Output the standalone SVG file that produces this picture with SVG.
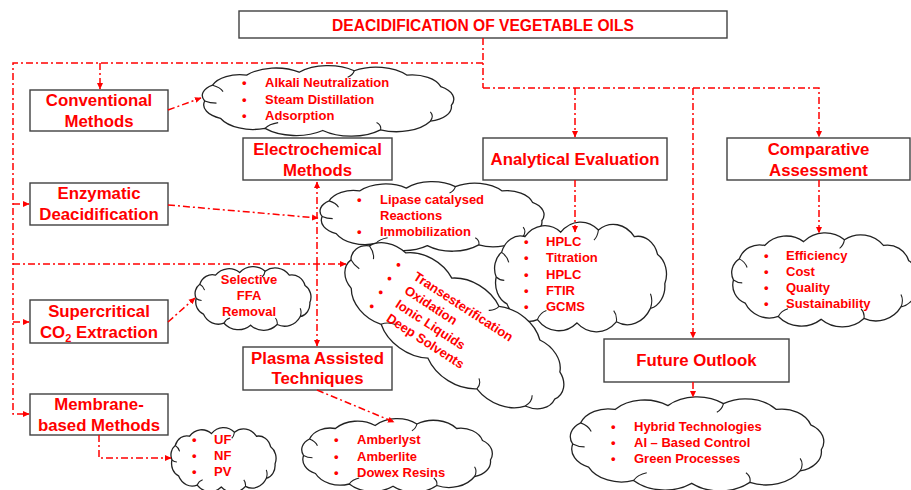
<svg xmlns="http://www.w3.org/2000/svg" xmlns:xlink="http://www.w3.org/1999/xlink" width="911" height="490" viewBox="0 0 911 490">
<style>
.box{fill:#fff;stroke:#404040;stroke-width:1.4}
.bt{font-family:"Liberation Sans",Arial,sans-serif;font-weight:bold;font-size:16.8px;fill:#ff0000;text-anchor:middle}
.title{font-family:"Liberation Sans",Arial,sans-serif;font-weight:bold;font-size:15.6px;fill:#ff0000;text-anchor:middle}
.ct{font-family:"Liberation Sans",Arial,sans-serif;font-weight:bold;font-size:13px;fill:#ff0000}
.ctm{font-family:"Liberation Sans",Arial,sans-serif;font-weight:bold;font-size:13px;fill:#ff0000;text-anchor:middle}
.cl{fill:#fff;stroke:#222;stroke-width:1.3;vector-effect:non-scaling-stroke}
.cli{fill:none;stroke:#222;stroke-width:1.1;vector-effect:non-scaling-stroke}
.con{fill:none;stroke:#ff0000;stroke-width:1.5;stroke-dasharray:7 3 2 3}
</style>
<defs>
<marker id="ah" markerWidth="7" markerHeight="7" refX="6" refY="3.5" orient="auto" markerUnits="userSpaceOnUse">
<path d="M0,0.5 L6.5,3.5 L0,6.5 Z" fill="#ff0000"/>
</marker>
<g id="cloud">
<g transform="translate(100,50) scale(1.025,1) translate(-100,-50)">
<path class="cl" d="M6,50 A17.1,17.1 0 0 1 12,28 A22.1,22.1 0 0 1 38,14 A30.1,30.1 0 0 1 78,10 A31.5,31.5 0 0 1 120,8 A30.3,30.3 0 0 1 160,14 A22.9,22.9 0 0 1 186,30 A20.4,20.4 0 0 1 194,56 A20.4,20.4 0 0 1 178,78 A29.9,29.9 0 0 1 140,90 A33,33 0 0 1 96,91 A33.1,33.1 0 0 1 52,88 A27.6,27.6 0 0 1 18,74 A20.1,20.1 0 0 1 6,50 Z"/>
<path class="cli" d="M12,28 Q18,31 20,37 M52,88 Q55,82 62,80 M140,90 Q141,84 137,80 M178,78 Q181,71 178,65 M120,8 Q119,14 115,17 M6,50 Q10,53 15,53"/>
</g>
</g>
</defs>

<g id="title">
<rect class="box" x="239" y="11" width="488" height="27"/>
<text class="title" x="483" y="30.5">DEACIDIFICATION OF VEGETABLE OILS</text>
</g>

<g id="conventional">
<rect class="box" x="30" y="90" width="138" height="41"/>
<text class="bt" x="99" y="106">Conventional</text>
<text class="bt" x="99" y="126.5">Methods</text>
</g>
<g id="enzymatic">
<rect class="box" x="30" y="183" width="138" height="42"/>
<text class="bt" x="99" y="199">Enzymatic</text>
<text class="bt" x="99" y="220">Deacidification</text>
</g>
<g id="supercritical">
<rect class="box" x="30" y="300" width="138" height="43"/>
<text class="bt" x="99" y="317">Supercritical</text>
<text class="bt" x="99" y="337.5">CO<tspan font-size="11" dy="4">2</tspan><tspan dy="-4"> Extraction</tspan></text>
</g>
<g id="membrane">
<rect class="box" x="30" y="394" width="138" height="41"/>
<text class="bt" x="99" y="410">Membrane-</text>
<text class="bt" x="99" y="431">based Methods</text>
</g>
<g id="electrochemical">
<rect class="box" x="243" y="138" width="149" height="42"/>
<text class="bt" x="317.5" y="155">Electrochemical</text>
<text class="bt" x="317.5" y="175.5">Methods</text>
</g>
<g id="plasma">
<rect class="box" x="243" y="347" width="149" height="43"/>
<text class="bt" x="317.5" y="363.5">Plasma Assisted</text>
<text class="bt" x="317.5" y="384">Techniques</text>
</g>
<g id="analytical">
<rect class="box" x="483" y="138" width="184" height="42"/>
<text class="bt" x="575" y="165">Analytical Evaluation</text>
</g>
<g id="comparative">
<rect class="box" x="727" y="138" width="183" height="42"/>
<text class="bt" x="818.5" y="155">Comparative</text>
<text class="bt" x="818.5" y="175.5">Assessment</text>
</g>
<g id="future">
<rect class="box" x="604" y="339" width="185" height="43"/>
<text class="bt" x="696.5" y="366">Future Outlook</text>
</g>

<g id="cloud-conventional">
<use xlink:href="#cloud" transform="translate(200,65) scale(1.28,0.72)"/>
<text class="ct" x="242" y="87">•</text><text class="ct" x="265" y="87">Alkali Neutralization</text>
<text class="ct" x="242" y="103.5">•</text><text class="ct" x="265" y="103.5">Steam Distillation</text>
<text class="ct" x="242" y="119.5">•</text><text class="ct" x="265" y="119.5">Adsorption</text>
</g>
<g id="cloud-enzymatic">
<use xlink:href="#cloud" transform="translate(318,181) scale(1.14,0.71)"/>
<text class="ct" x="357" y="203.5">•</text><text class="ct" x="380" y="203.5">Lipase catalysed</text>
<text class="ct" x="380" y="219.5">Reactions</text>
<text class="ct" x="357" y="235.5">•</text><text class="ct" x="380" y="235.5">Immobilization</text>
</g>
<g id="cloud-analytical">
<use xlink:href="#cloud" transform="translate(493,221) scale(0.875,1.12)"/>
<text class="ct" x="524" y="245.5">•</text><text class="ct" x="546" y="245.5">HPLC</text>
<text class="ct" x="524" y="262">•</text><text class="ct" x="546" y="262">Titration</text>
<text class="ct" x="524" y="278.5">•</text><text class="ct" x="546" y="278.5">HPLC</text>
<text class="ct" x="524" y="294.5">•</text><text class="ct" x="546" y="294.5">FTIR</text>
<text class="ct" x="524" y="310.5">•</text><text class="ct" x="546" y="310.5">GCMS</text>
</g>
<g id="cloud-comparative">
<use xlink:href="#cloud" transform="translate(730,232) scale(0.95,0.96)"/>
<text class="ct" x="764" y="260">•</text><text class="ct" x="786" y="260">Efficiency</text>
<text class="ct" x="764" y="276">•</text><text class="ct" x="786" y="276">Cost</text>
<text class="ct" x="764" y="292">•</text><text class="ct" x="786" y="292">Quality</text>
<text class="ct" x="764" y="308">•</text><text class="ct" x="786" y="308">Sustainability</text>
</g>
<g id="cloud-supercritical">
<use xlink:href="#cloud" transform="translate(194,266) scale(0.59,0.65)"/>
<text class="ctm" x="249" y="284">Selective</text>
<text class="ctm" x="249" y="300">FFA</text>
<text class="ctm" x="249" y="316">Removal</text>
</g>
<g id="cloud-central">
<g transform="translate(455,328) rotate(33)">
<use xlink:href="#cloud" transform="translate(-129,-50) scale(1.28,0.99)"/>
<text class="ct" x="-84" y="-18">•</text><text class="ct" x="-62.5" y="-18">Transesterification</text>
<text class="ct" x="-84" y="-1.5">•</text><text class="ct" x="-62.5" y="-1.5">Oxidation</text>
<text class="ct" x="-84" y="15">•</text><text class="ct" x="-62.5" y="15">Ionic Liquids</text>
<text class="ct" x="-84" y="31.5">•</text><text class="ct" x="-62.5" y="31.5">Deep Solvents</text>
</g>
</g>
<g id="cloud-membrane">
<use xlink:href="#cloud" transform="translate(170,427) scale(0.535,0.66)"/>
<text class="ct" x="192" y="444">•</text><text class="ct" x="214" y="444">UF</text>
<text class="ct" x="192" y="460">•</text><text class="ct" x="214" y="460">NF</text>
<text class="ct" x="192" y="476">•</text><text class="ct" x="214" y="476">PV</text>
</g>
<g id="cloud-plasma">
<use xlink:href="#cloud" transform="translate(300,418) scale(0.97,0.75)"/>
<text class="ct" x="334" y="444">•</text><text class="ct" x="357" y="444">Amberlyst</text>
<text class="ct" x="334" y="460.5">•</text><text class="ct" x="357" y="460.5">Amberlite</text>
<text class="ct" x="334" y="476.5">•</text><text class="ct" x="357" y="476.5">Dowex Resins</text>
</g>
<g id="cloud-future">
<use xlink:href="#cloud" transform="translate(568,396) scale(1.29,0.96)"/>
<text class="ct" x="611" y="431">•</text><text class="ct" x="634" y="431">Hybrid Technologies</text>
<text class="ct" x="611" y="447">•</text><text class="ct" x="634" y="447">AI – Based Control</text>
<text class="ct" x="611" y="463">•</text><text class="ct" x="634" y="463">Green Processes</text>
</g>

<g id="connectors">
<path class="con" d="M483,38 V88"/>
<path class="con" d="M483,63 H13 V414 H29" marker-end="url(#ah)"/>
<path class="con" d="M100,63 V89" marker-end="url(#ah)"/>
<path class="con" d="M483,88 H819 V137" marker-end="url(#ah)"/>
<path class="con" d="M575,88 V137" marker-end="url(#ah)"/>
<path class="con" d="M693,88 V338" marker-end="url(#ah)"/>
<path class="con" d="M13,204 H29" marker-end="url(#ah)"/>
<path class="con" d="M13,322 H29" marker-end="url(#ah)"/>
<path class="con" d="M13,264 H346" marker-end="url(#ah)"/>
<path class="con" d="M317,264 V182" marker-end="url(#ah)"/>
<path class="con" d="M317,264 V346" marker-end="url(#ah)"/>
<path class="con" d="M168,205 L318,218" marker-end="url(#ah)"/>
<path class="con" d="M168,110 L201,98" marker-end="url(#ah)"/>
<path class="con" d="M168,322 L195,298" marker-end="url(#ah)"/>
<path class="con" d="M575,180 V232" marker-end="url(#ah)"/>
<path class="con" d="M819,180 V233" marker-end="url(#ah)"/>
<path class="con" d="M693,382 V397" marker-end="url(#ah)"/>
<path class="con" d="M317,390 L394,422" marker-end="url(#ah)"/>
<path class="con" d="M99,435 V458 H171" marker-end="url(#ah)"/>
</g>
</svg>
